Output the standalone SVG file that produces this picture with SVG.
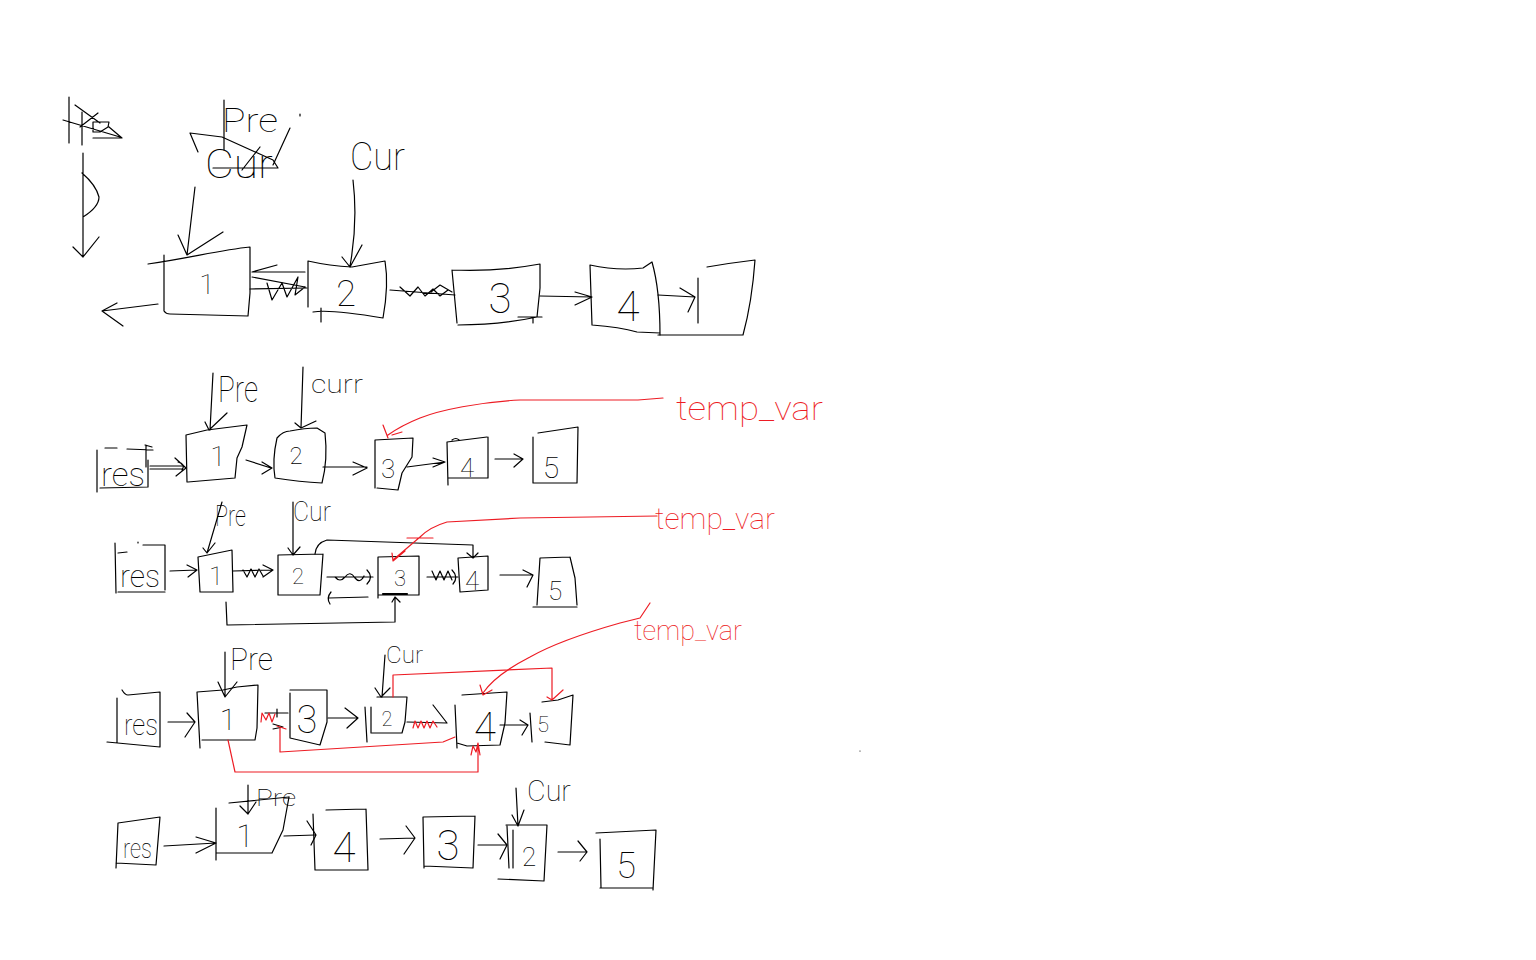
<svg xmlns="http://www.w3.org/2000/svg" width="1536" height="960" viewBox="0 0 1536 960">
  <style>
    .ln { fill: none; stroke: #000; stroke-width: 1.2; stroke-linejoin: round; stroke-linecap: round; }
    .rd { fill: none; stroke: #ed1c24; stroke-width: 1.2; stroke-linejoin: round; stroke-linecap: round; }
    .bold { stroke-width: 2.2; }
    .t { font-family: Roboto, "Liberation Sans", sans-serif; font-weight: 100; fill: #000; }
    .tr { font-family: Roboto, "Liberation Sans", sans-serif; font-weight: 100; fill: #ed1c24; }
    .c { text-anchor: middle; }
  </style>
  <rect width="1536" height="960" fill="#fff"/>

  <!-- ===== step 0: first attempt (reversing in place) ===== -->
  <g id="s0-legend">
    <path class="ln" d="M69,97 V143 M82,112 V145 M63,120 L120,137 M75,105 L100,123 M80,127 L98,113 M93,122 H109 L108,127 L100,132 H93 Z M93,138 H122 L109,127"/>
    <path class="ln" d="M83,153 V257 M73,247 L83,257 L99,237 M82,173 Q96,185 99,197 Q99,207 83,217"/>
  </g>
  <g id="s0-pre-label">
    <path class="ln" d="M224,100 V150 M300,114 L300,116"/>
    <text class="t" x="222" y="132" font-size="34" textLength="56" lengthAdjust="spacingAndGlyphs">Pre</text>
    <text class="t" x="205" y="178" font-size="40" textLength="68" lengthAdjust="spacingAndGlyphs">Cur</text>
    <path class="ln" d="M190,133 L222,137 L273,160 L278,168 L213,168 M190,133 L198,152 M242,170 L260,147 M273,165 L290,128"/>
  </g>
  <g id="s0-cur-label">
    <text class="t" x="350" y="170" font-size="38" textLength="55" lengthAdjust="spacingAndGlyphs">Cur</text>
  </g>
  <g id="s0-n1">
    <path class="ln" d="M148,264 C190,258 220,250 250,247 M164,255 V311 Q166,314 170,314 L248,316 M250,247 V293 L248,316"/>
    <text class="t c" x="207" y="294" font-size="28">1</text>
  </g>
  <g id="s0-n2">
    <path class="ln" d="M308,261 V307 M308,261 Q330,266 352,267 L385,261 M385,261 Q389,285 383,318 M313,312 Q330,309 383,318 M321,308 V322"/>
    <text class="t c" x="346" y="306" font-size="36">2</text>
  </g>
  <g id="s0-n3">
    <path class="ln" d="M452,270 L457,323 M452,270 Q497,272 540,264 M540,264 V288 L537,317 M458,325 Q500,325 537,317 M518,317 H542 M533,317 V323"/>
    <text class="t c" x="500" y="313" font-size="42">3</text>
  </g>
  <g id="s0-n4">
    <path class="ln" d="M590,265 L592,325 M590,265 Q617,271 643,268 L652,262 M652,262 Q660,290 660,335 M592,325 Q620,327 637,332 L660,333"/>
    <text class="t c" x="628" y="321" font-size="42">4</text>
  </g>
  <g id="s0-n5">
    <path class="ln" d="M698,278 V323 M707,267 Q730,263 755,260 M755,260 Q752,302 743,335 M658,335 H743"/>
  </g>

  <!-- ===== step 1 ===== -->
  <g id="s1-res">
    <path class="ln" d="M97,450 V492 M105,448 H117 M127,449 L153,450 M148,460 V487 M100,488 L148,487 M146,445 V467 M145,445 L152,447"/>
    <text class="t" x="101" y="486" font-size="34" textLength="44" lengthAdjust="spacingAndGlyphs">res</text>
  </g>
  <g id="s1-n1">
    <path class="ln" d="M186,435 L187,482 M186,435 L207,430 L247,425 M247,425 L242,447 L237,458 L235,478 M188,482 L235,478"/>
    <text class="t c" x="218" y="466" font-size="28">1</text>
  </g>
  <g id="s1-n2">
    <path class="ln" d="M277,438 Q283,431 290,431 Q305,428 317,428 L325,433 Q328,460 322,483 Q300,482 275,478 Q272,460 277,438 Z"/>
    <text class="t c" x="296" y="464" font-size="24">2</text>
  </g>
  <g id="s1-n3">
    <path class="ln" d="M375,440 V488 M375,440 L413,438 M413,438 L412,457 L402,473 L398,490 M377,488 L398,490"/>
    <text class="t c" x="388" y="478" font-size="26">3</text>
  </g>
  <g id="s1-n4">
    <path class="ln" d="M447,442 L448,485 M447,442 L487,437 M488,437 V478 M448,478 H488 M452,440 Q456,437 459,440"/>
    <text class="t c" x="467" y="477" font-size="26">4</text>
  </g>
  <g id="s1-n5">
    <path class="ln" d="M533,437 V483 M538,433 L578,427 M578,427 L577,483 M533,483 H577"/>
    <text class="t c" x="551" y="478" font-size="30">5</text>
  </g>
  <g id="s1-labels">
    <text class="t" x="218" y="402" font-size="36" textLength="40" lengthAdjust="spacingAndGlyphs">Pre</text>
    <text class="t" x="311" y="393" font-size="26" textLength="52" lengthAdjust="spacingAndGlyphs">curr</text>
    <text class="tr" x="676" y="420" font-size="34" textLength="147" lengthAdjust="spacingAndGlyphs">temp_var</text>
  </g>

  <!-- ===== step 2 ===== -->
  <g id="s2-res">
    <path class="ln" d="M115,543 L116,593 M143,545 H165 M118,553 L127,552 M165,545 V590 M118,592 H165 M138,542 V543"/>
    <text class="t" x="120" y="587" font-size="32" textLength="40" lengthAdjust="spacingAndGlyphs">res</text>
  </g>
  <g id="s2-n1">
    <path class="ln" d="M198,557 L200,592 M198,557 L232,550 M232,550 L233,592 M200,592 H233"/>
    <text class="t c" x="216" y="585" font-size="26">1</text>
  </g>
  <g id="s2-n2">
    <path class="ln" d="M278,555 V595 M278,555 L323,554 M323,554 L320,595 M278,595 H320"/>
    <text class="t c" x="298" y="584" font-size="22">2</text>
  </g>
  <g id="s2-n3">
    <path class="ln" d="M378,557 V598 M378,557 L419,556 M419,556 V595 M378,595 H419"/>
    <path class="ln bold" d="M383,594 H407"/>
    <text class="t c" x="400" y="586" font-size="22">3</text>
  </g>
  <g id="s2-n4">
    <path class="ln" d="M458,558 L460,592 M458,558 L488,556 M488,556 V590 M460,592 L488,590"/>
    <text class="t c" x="472" y="590" font-size="26" font-weight="400">4</text>
  </g>
  <g id="s2-n5">
    <path class="ln" d="M540,558 L537,605 M540,558 L570,557 M570,557 L575,578 L577,605 M533,607 H577"/>
    <text class="t c" x="555" y="600" font-size="26">5</text>
  </g>
  <g id="s2-labels">
    <text class="t" x="215" y="526" font-size="30" textLength="31" lengthAdjust="spacingAndGlyphs">Pre</text>
    <text class="t" x="293" y="521" font-size="28" textLength="38" lengthAdjust="spacingAndGlyphs">Cur</text>
    <text class="tr" x="655" y="529" font-size="30" textLength="120" lengthAdjust="spacingAndGlyphs">temp_var</text>
  </g>

  <!-- ===== step 3 ===== -->
  <g id="s3-res">
    <path class="ln" d="M117,698 V743 M122,690 Q125,695 128,695 L160,692 M160,692 V747 M107,742 L160,747"/>
    <text class="t" x="124" y="735" font-size="30" textLength="34" lengthAdjust="spacingAndGlyphs">res</text>
  </g>
  <g id="s3-n1">
    <path class="ln" d="M197,692 L200,748 M197,692 L223,690 L237,687 L258,685 M258,685 L257,728 L255,740 M202,740 H255"/>
    <text class="t c" x="228" y="730" font-size="30">1</text>
  </g>
  <g id="s3-n3">
    <path class="ln" d="M290,693 V738 M290,690 H327 M327,690 V722 L320,745 M290,738 L320,745"/>
    <text class="t c" x="307" y="733" font-size="38">3</text>
  </g>
  <g id="s3-n2">
    <path class="ln" d="M365,707 L367,742 M377,697 H407 M407,697 L405,722 L402,733 M372,733 H402 M371,707 V733"/>
    <text class="t c" x="387" y="726" font-size="20">2</text>
  </g>
  <g id="s3-n4">
    <path class="ln" d="M455,705 L457,748 M462,695 L507,692 M507,692 L505,723 L500,745 M457,743 L467,746 L500,745"/>
    <text class="t c" x="485" y="741" font-size="40">4</text>
  </g>
  <g id="s3-n5">
    <path class="ln" d="M530,713 L532,742 M542,702 L558,700 L573,695 M573,695 L570,745 M545,742 L570,745"/>
    <text class="t c" x="543" y="732" font-size="22">5</text>
  </g>
  <g id="s3-labels">
    <text class="t" x="230" y="670" font-size="32" textLength="43" lengthAdjust="spacingAndGlyphs">Pre</text>
    <text class="t" x="386" y="663" font-size="24" textLength="37" lengthAdjust="spacingAndGlyphs">Cur</text>
    <text class="tr" x="634" y="640" font-size="28" textLength="108" lengthAdjust="spacingAndGlyphs">temp_var</text>
  </g>

  <!-- ===== step 4: result ===== -->
  <g id="s4-res">
    <path class="ln" d="M118,823 L116,868 M118,823 L160,817 M160,817 L156,865 M116,863 L156,865"/>
    <text class="t" x="123" y="858" font-size="28" textLength="29" lengthAdjust="spacingAndGlyphs">res</text>
  </g>
  <g id="s4-n1">
    <path class="ln" d="M216,808 V860 M216,853 H272 M289,797 L283,830 L272,853"/>
    <text class="t c" x="245" y="847" font-size="32">1</text>
  </g>
  <g id="s4-n4">
    <path class="ln" d="M313,814 L315,870 M326,810 L366,809 M366,809 L368,870 M315,870 H368"/>
    <text class="t c" x="344" y="862" font-size="42">4</text>
  </g>
  <g id="s4-n3">
    <path class="ln" d="M423,817 L424,868 M423,817 L475,816 M475,816 L473,868 M424,866 L473,868"/>
    <text class="t c" x="448" y="860" font-size="42">3</text>
  </g>
  <g id="s4-n2">
    <path class="ln" d="M507,826 L509,868 M506,825 H547 M547,825 L544,881 M498,879 L544,881 M513,830 V868"/>
    <text class="t c" x="529" y="866" font-size="26">2</text>
  </g>
  <g id="s4-n5">
    <path class="ln" d="M600,839 L601,888 M596,833 L656,830 M656,830 L653,890 M600,888 H653"/>
    <text class="t c" x="626" y="878" font-size="36">5</text>
  </g>
  <g id="s4-labels">
    <text class="t" x="256" y="806" font-size="24" textLength="40" lengthAdjust="spacingAndGlyphs">Pre</text>
    <text class="t" x="527" y="801" font-size="30" textLength="44" lengthAdjust="spacingAndGlyphs">Cur</text>
  </g>

  <!-- ===== connectors ===== -->
  <g id="connectors">
    <!-- step 0 -->
    <path class="ln" d="M195,187 L187,255 M178,235 L187,255 L223,232"/>
    <path class="ln" d="M353,180 Q358,222 350,266 M342,257 L350,267 L362,245"/>
    <path class="ln" d="M158,304 L102,311 M117,303 L102,311 L123,326"/>
    <path class="ln" d="M252,272 L305,272 M252,272 L277,265 M252,277 L305,287"/>
    <path class="ln" d="M250,289 L307,288 M267,283 L272,300 L282,283 L287,297 L298,277 L295,295 L305,287"/>
    <path class="ln" d="M390,290 L455,295 M400,287 L410,296 L418,287 L425,296 L433,289 L440,296 L448,290 M431,292 L440,285 L452,292"/>
    <path class="ln" d="M540,296 L592,297 M575,292 L592,297 L575,305"/>
    <path class="ln" d="M658,295 L695,297 M680,288 L695,297 L688,312"/>
    <!-- step 1 -->
    <path class="ln" d="M150,466 H182 M150,469 H182 M175,458 L186,468 L176,476 M178,462 Q186,464 182,470"/>
    <path class="ln" d="M213,373 L210,430 M205,422 L209,430 L227,413"/>
    <path class="ln" d="M303,367 L301,428 M295,423 L301,428 L316,421"/>
    <path class="ln" d="M246,460 L271,468 M262,462 L272,468 L262,474"/>
    <path class="ln" d="M323,467 H367 M353,462 L367,468 L353,475"/>
    <path class="ln" d="M407,467 L445,462 M433,458 L445,462 L433,467"/>
    <path class="ln" d="M495,459 H523 M514,454 L523,459 L514,467"/>
    <path class="rd" d="M663,398 L638,400 L520,400 C480,402 440,410 420,418 C405,424 395,430 388,435 M383,425 L388,438 M392,435 L402,432"/>
    <!-- step 2 -->
    <path class="ln" d="M170,571 L197,570 M187,565 L197,570 L188,577"/>
    <path class="ln" d="M222,502 L207,553 M203,548 L207,553 L215,543"/>
    <path class="ln" d="M293,502 V555 M288,548 L293,555 L300,547"/>
    <path class="ln" d="M233,571 L273,570 M263,565 L273,570 L263,577 M243,570 L247,577 L251,569 L255,577 L259,569 L263,576"/>
    <path class="ln" d="M315,554 Q316,543 327,540 L473,545 V557 M467,553 L473,558 L478,553"/>
    <path class="ln" d="M327,577 H373 M335,577 Q340,583 345,577 Q350,570 355,578 Q360,584 364,576 M367,570 Q374,577 367,584"/>
    <path class="ln" d="M368,597 L329,598 M331,592 Q326,598 330,604"/>
    <path class="ln" d="M226,602 L227,625 L395,622 V597 M392,602 L395,597 L400,602"/>
    <path class="ln" d="M427,577 H458 M432,571 L436,580 L440,571 L444,580 L448,571 L452,580 M452,570 Q459,577 453,584"/>
    <path class="ln" d="M500,575 H533 M523,570 L533,575 L527,587"/>
    <path class="rd" d="M657,516 L590,517 L520,518 L447,522 Q430,527 420,537 L393,560 M392,553 L393,561 L405,551 M407,538 H433"/>
    <!-- step 3 -->
    <path class="ln" d="M168,722 H195 M187,713 L195,722 L185,737"/>
    <path class="ln" d="M225,652 V697 M218,682 L225,697 L237,682"/>
    <path class="ln" d="M385,655 L382,697 M375,688 L381,697 L390,688"/>
    <path class="ln" d="M265,713 L288,713 M277,709 V717 M273,724 L283,727 L273,729"/>
    <path class="rd" d="M261,722 L262,713 L266,720 L269,713 L272,722 L275,714"/>
    <path class="ln" d="M328,718 H357 M345,708 L358,718 L347,728"/>
    <path class="ln" d="M407,722 L447,723 M433,705 L447,723"/>
    <path class="rd" d="M413,728 L415,721 L418,728 L421,721 L424,728 L427,721 L430,728 L433,721 L437,727"/>
    <path class="ln" d="M500,725 H528 M520,720 L528,725 L522,735"/>
    <path class="rd" d="M393,697 V675 L552,668 V700 M547,697 L552,700 L563,690"/>
    <path class="rd" d="M650,603 L640,618 L620,623 Q560,640 530,657 Q495,675 483,693 M480,685 L483,695 L492,690"/>
    <path class="rd" d="M455,737 L443,742 L280,752 L280,728 M277,726 L286,729"/>
    <path class="rd" d="M228,740 L235,772 L478,772 V743 M471,755 L473,746 L476,752 L478,743 L480,755"/>
    <!-- step 4 -->
    <path class="ln" d="M164,846 L216,843 M196,837 L216,843 L196,853"/>
    <path class="ln" d="M248,785 V814 M240,806 L248,814 L256,802 M229,803 L289,797"/>
    <path class="ln" d="M516,788 L518,826 M512,815 L518,826 L524,810"/>
    <path class="ln" d="M284,836 L315,835 M307,821 L316,835 L311,845"/>
    <path class="ln" d="M380,839 L415,838 M406,826 L415,838 L404,854"/>
    <path class="ln" d="M478,845 H507 M498,834 L507,845 L500,859"/>
    <path class="ln" d="M558,852 H587 M578,841 L587,852 L580,861"/>
  </g>
  <circle cx="860" cy="751" r="0.6" fill="#000"/>
</svg>
